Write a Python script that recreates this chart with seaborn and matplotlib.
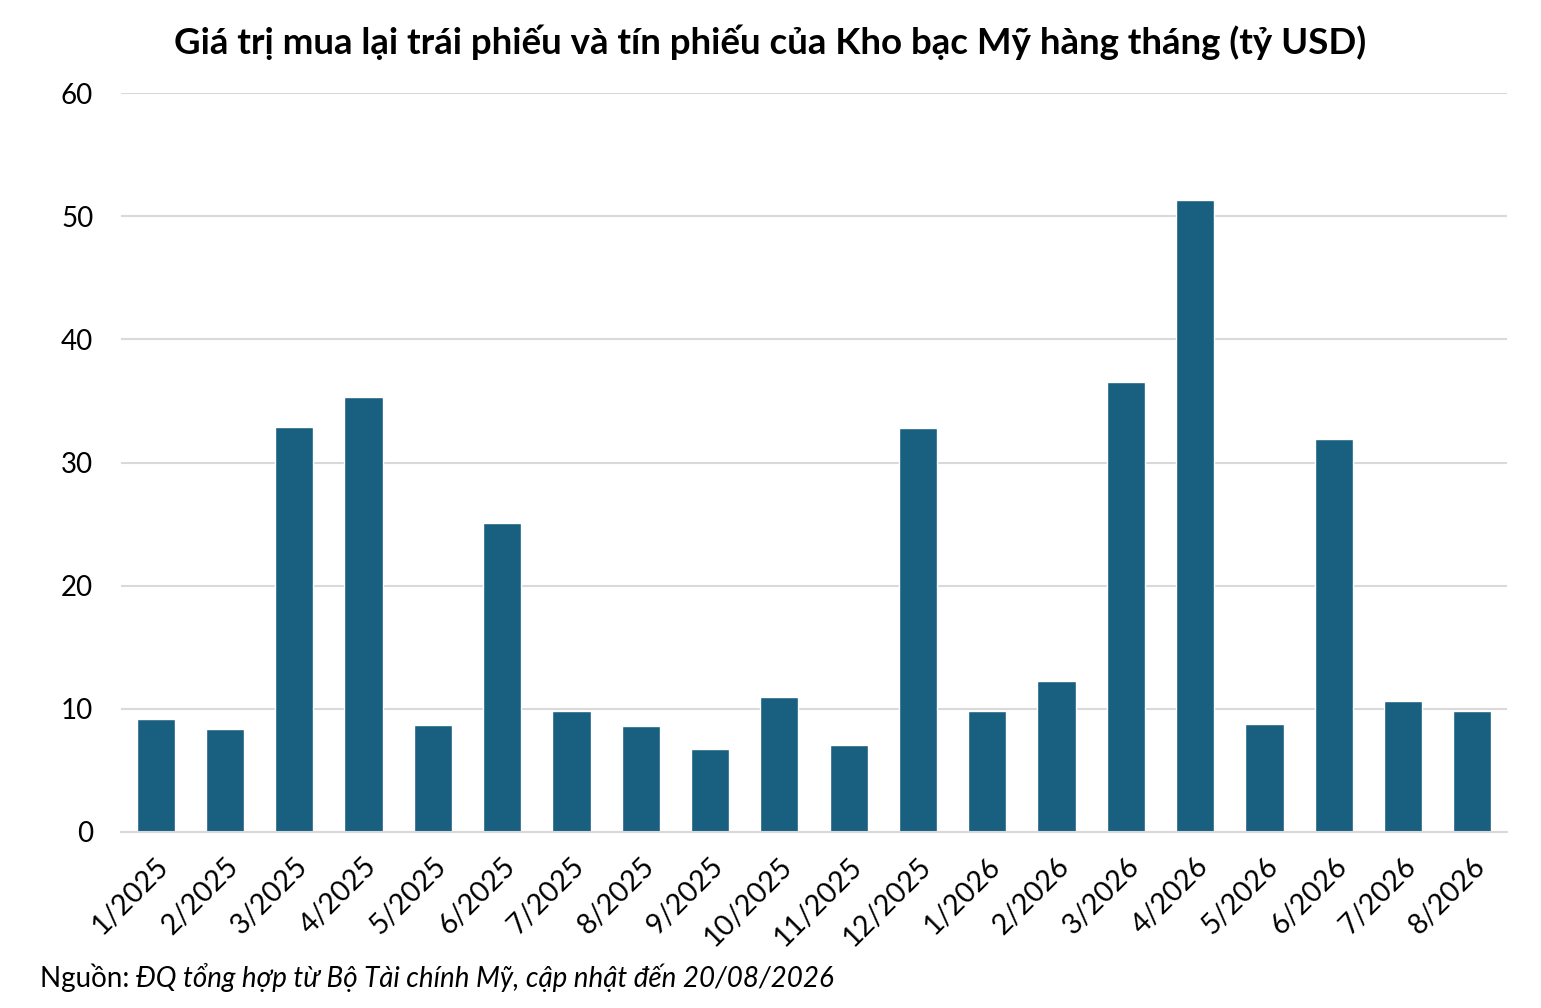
import matplotlib
matplotlib.use("Agg")
import matplotlib.pyplot as plt
import seaborn as sns
import pandas as pd

# dữ liệu (tỷ USD)
months = ["1/2025", "2/2025", "3/2025", "4/2025", "5/2025", "6/2025", "7/2025",
          "8/2025", "9/2025", "10/2025", "11/2025", "12/2025", "1/2026", "2/2026",
          "3/2026", "4/2026", "5/2026", "6/2026", "7/2026", "8/2026"]
values = [9.2, 8.4, 32.9, 35.3, 8.7, 25.1, 9.8, 8.6, 6.7, 11.0, 7.1, 32.8,
          9.8, 12.3, 36.5, 51.3, 8.8, 31.9, 10.6, 9.8]
yticks = [0, 10, 20, 30, 40, 50, 60]

title = "Giá trị mua lại trái phiếu và tín phiếu của Kho bạc Mỹ hàng tháng (tỷ USD)"
source_label = "Nguồn: "
source_text = "ĐQ tổng hợp từ Bộ Tài chính Mỹ, cập nhật đến 20/08/2026"

BAR = "#185f80"
GRID = "#d9d9d9"

sns.set_theme(style="white")
plt.rcParams["font.family"] = ["Lato", "DejaVu Sans"]

df = pd.DataFrame({"month": months, "value": values})

fig = plt.figure(figsize=(15.41, 10.08), dpi=100)
ax = fig.add_axes([121 / 1541, 1 - 832 / 1008, (1507 - 121) / 1541, (832 - 93) / 1008])

sns.barplot(data=df, x="month", y="value", color=BAR, saturation=1, width=0.55, ax=ax)

ax.set_ylim(0, 60)
ax.set_xlim(-0.5, len(months) - 0.5)
ax.set_yticks(yticks)
ax.yaxis.grid(True, color=GRID, linewidth=1.5)
ax.set_axisbelow(True)
for s in ["top", "right", "left"]:
    ax.spines[s].set_visible(False)
ax.spines["bottom"].set_color(GRID)
ax.spines["bottom"].set_linewidth(1.5)

ax.set_xlabel("")
ax.set_ylabel("")
ax.tick_params(axis="y", length=0, labelsize=20, pad=20, colors="black")
ax.tick_params(axis="x", length=0, labelsize=20.5, pad=15, colors="black")
for lab in ax.get_xticklabels():
    lab.set_rotation(45)
    lab.set_ha("right")
    lab.set_rotation_mode("anchor")

# vạch chia giữa các cột
ax.set_xticks([i - 0.5 for i in range(len(months) + 1)], minor=True)
ax.tick_params(axis="x", which="minor", length=8, width=1.5, color=GRID, direction="out")

fig.text(0.5, 1 - 42 / 1008, title, ha="center", va="center",
         fontsize=26.4, fontweight="bold", color="black")

t1 = fig.text(40 / 1541, 1 - 978 / 1008, source_label, ha="left", va="center",
              fontsize=20, color="black")
ax.annotate(source_text, xy=(1, 0), xycoords=t1, ha="left", va="bottom",
            fontsize=20, fontstyle="italic", color="black")

fig.savefig("out.png", dpi=100, facecolor="white")
